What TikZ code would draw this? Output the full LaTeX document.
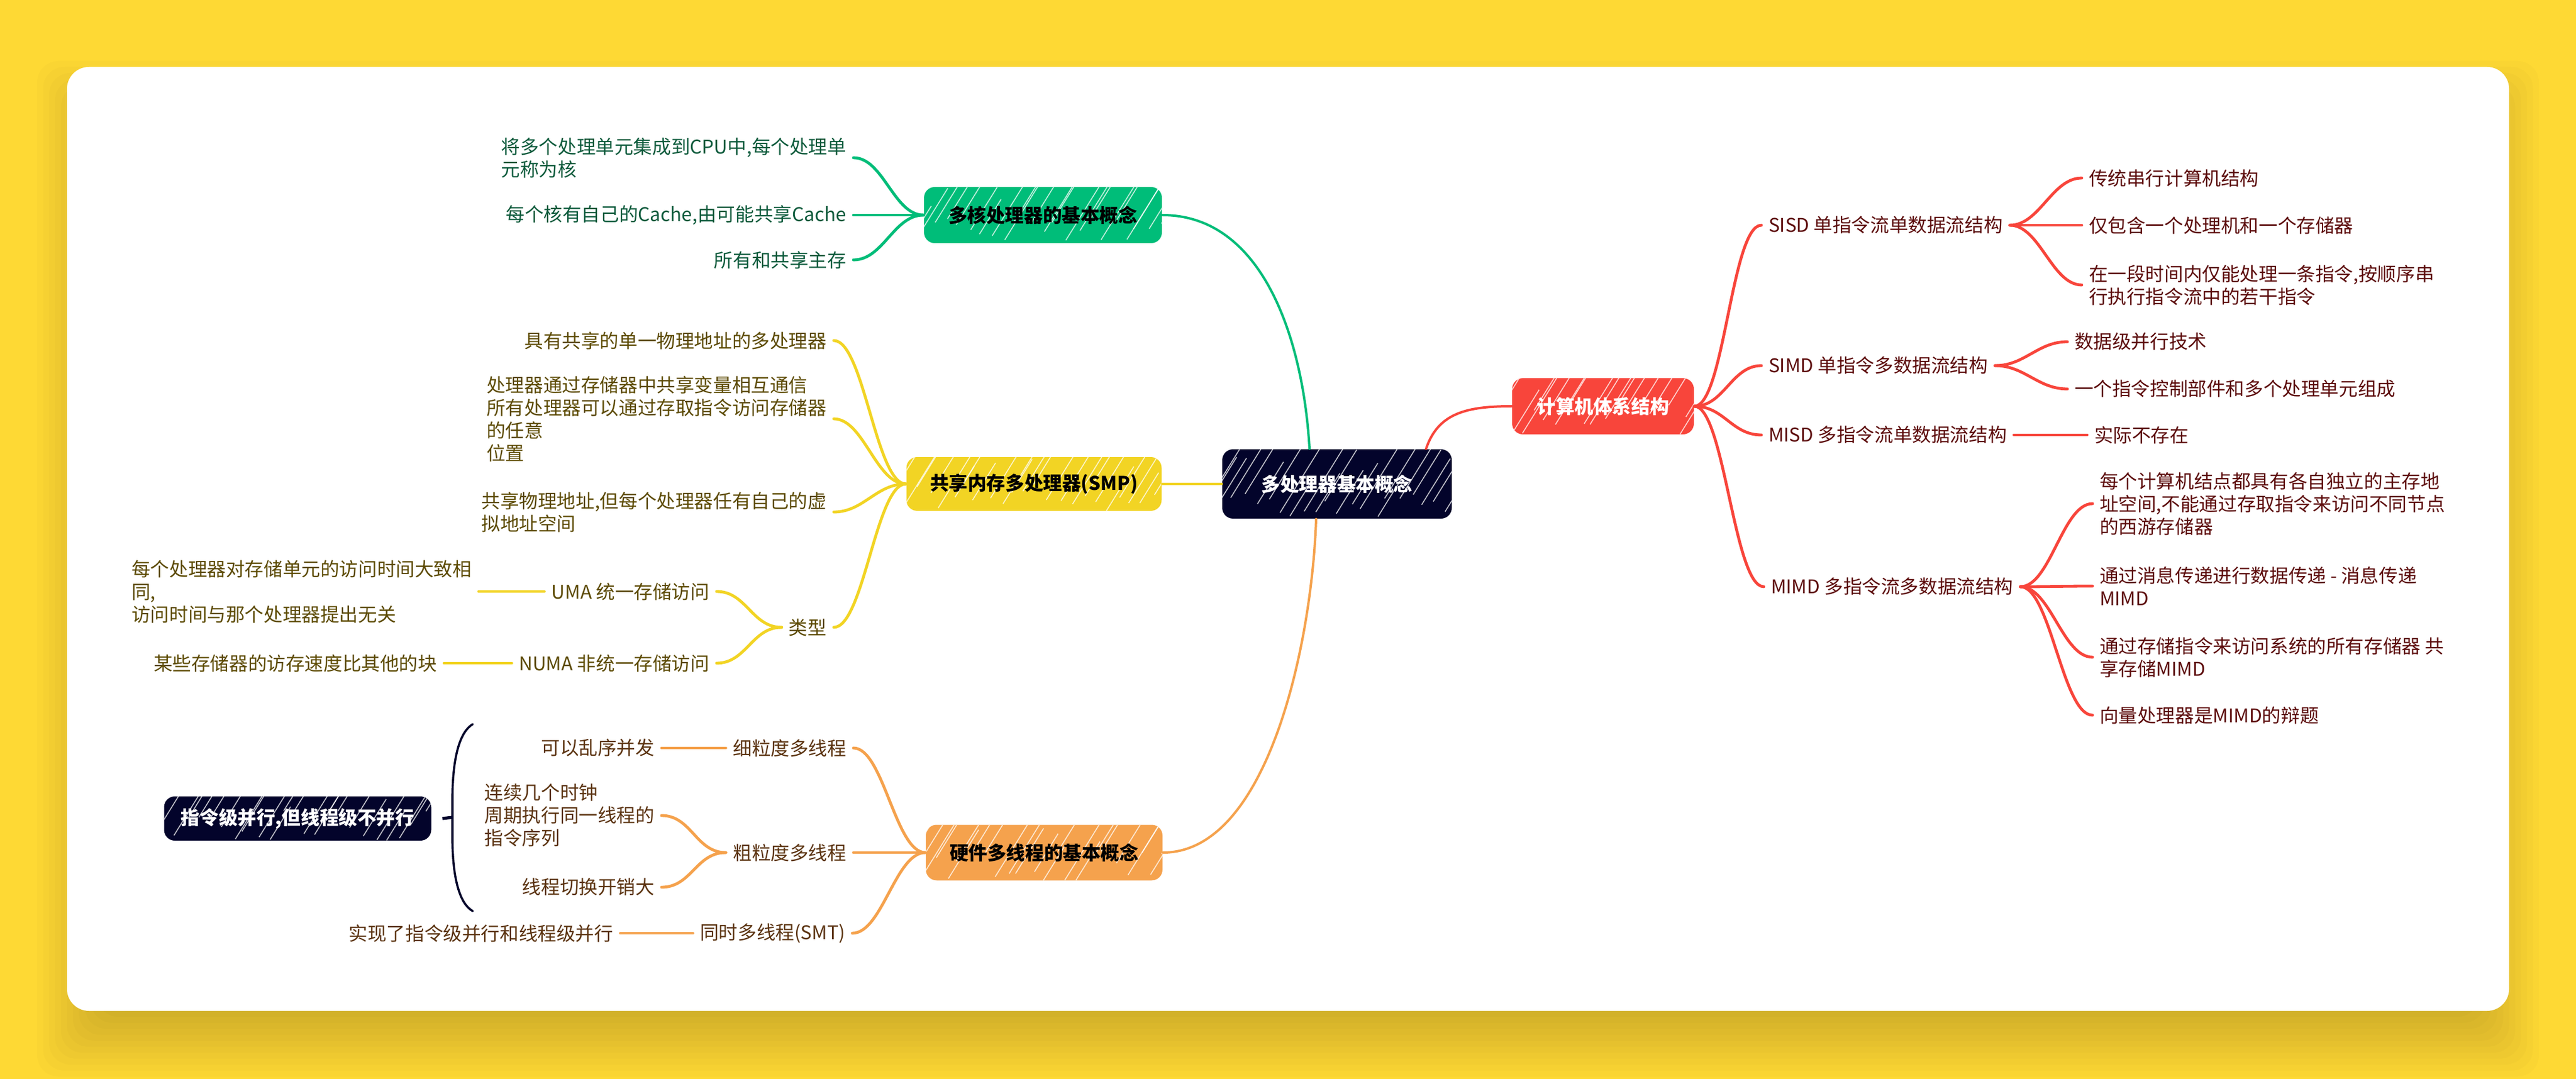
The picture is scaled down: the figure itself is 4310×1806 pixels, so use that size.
\documentclass[tikz,border=0pt]{standalone}
\usepackage{fontspec}
\setmainfont{Noto Sans CJK SC}
\usetikzlibrary{calc}
\definecolor{bg}{HTML}{FED934}
\definecolor{navy}{HTML}{03042B}
\definecolor{redc}{HTML}{F8453B}
\definecolor{greenc}{HTML}{00BD79}
\definecolor{yellowc}{HTML}{F2D424}
\definecolor{orangec}{HTML}{F5A24D}
\definecolor{gtext}{HTML}{0C5A3B}
\definecolor{ytext}{HTML}{5C4A02}
\definecolor{otext}{HTML}{5B3310}
\definecolor{rtext}{HTML}{5C0B0B}
\newcommand\fsz{\fontsize{7.9pt}{9.5pt}\selectfont}
\tikzset{
  box/.style={rounded corners=4.5pt, inner sep=0pt, align=center, font=\fsz\bfseries},
  hatched/.style={path picture={%
    \foreach \k in {0,...,26}{%
      \pgfmathsetmacro\hx{-70+\k*20+rnd*12}%
      \pgfmathsetmacro\hs{rnd*50}%
      \pgfmathsetmacro\hl{50+rnd*110}%
      \draw[white, line width=0.4pt, opacity=0.75] ($(path picture bounding box.south west)+(\hx,-\hs)$) -- ++({0.62*\hl},{-\hl});
    }}},
  lt/.style={inner sep=0pt, outer xsep=3pt, outer ysep=0pt, anchor=east, align=left, font=\fsz},
  rt/.style={inner sep=0pt, outer xsep=3pt, outer ysep=0pt, anchor=west, align=left, font=\fsz},
  conn/.style={line width=1.2pt, line cap=round},
  mainconn/.style={line width=1pt, line cap=round},
}
\newcommand\lconn[3]{\draw[conn,#1] (#2) .. controls +(-50,0) and +(50,0) .. (#3);}
\newcommand\rconn[3]{\draw[conn,#1] (#2) .. controls +(50,0) and +(-50,0) .. (#3);}
\begin{document}
\begin{tikzpicture}[x=0.25pt,y=-0.25pt]
\pgfmathsetseed{11}
\useasboundingbox (0,0) rectangle (4310,1806);
\fill[bg] (0,0) rectangle (4310,1806);
% card shadow
\foreach \s in {-60,-50,...,60}{
  \fill[black, fill opacity=0.016, rounded corners=9pt] ({122-\s},{162-\s}) rectangle ({4188+\s},{1742+\s});
}
\fill[white, rounded corners=9.25pt] (112,112) rectangle (4198,1692);

% ---------- connectors from the centre ----------
\node[box, hatched, fill=navy, text=white, minimum width=96pt, minimum height=29pt] (c) at (2237,810) {多处理器基本概念};
\node[box, hatched, fill=redc, text=white, minimum width=76pt, minimum height=23.5pt] (r) at (2682,680) {计算机体系结构};
\node[box, hatched, fill=greenc, text=black, minimum width=99.5pt, minimum height=23.5pt] (g) at (1745,360) {多核处理器的基本概念};
\node[box, hatched, fill=yellowc, text=black, minimum width=106.75pt, minimum height=22.5pt] (y) at (1730,810) {共享内存多处理器(SMP)};
\node[box, hatched, fill=orangec, text=black, minimum width=99pt, minimum height=23.25pt] (o) at (1747,1427) {硬件多线程的基本概念};
\node[box, hatched, fill=navy, text=white, minimum width=111.75pt, minimum height=18.5pt] (sum) at (498,1370) {指令级并行,但线程级不并行};

\begin{scope}[on background layer/.style={}]
\end{scope}

\draw[mainconn, greenc] (g.east) .. controls +(165,0) and +(-11,-190) .. ($(c.north)+(-46,0)$);
\draw[mainconn, orangec] (o.east) .. controls +(175,0) and +(-7,210) .. ($(c.south)+(-35,0)$);
\draw[mainconn, yellowc] (y.east) -- (c.west);
\draw[mainconn, redc] ($(c.north)+(149,0)$) .. controls +(20,-60) and +(-75,0) .. (r.west);

% ---------- green branch ----------
\node[lt, text=gtext] (g1) at (1428,264) {将多个处理单元集成到CPU中,每个处理单\\元称为核};
\node[lt, text=gtext] (g2) at (1428,360) {每个核有自己的Cache,由可能共享Cache};
\node[lt, text=gtext] (g3) at (1428,435) {所有和共享主存};
\lconn{greenc}{g.west}{g1.east}
\lconn{greenc}{g.west}{g2.east}
\lconn{greenc}{g.west}{g3.east}

% ---------- yellow branch ----------
\node[lt, text=ytext] (y1) at (1395,570) {具有共享的单一物理地址的多处理器};
\node[lt, text=ytext] (y2) at (1395,701) {处理器通过存储器中共享变量相互通信\\所有处理器可以通过存取指令访问存储器\\的任意\\位置};
\node[lt, text=ytext] (y3) at (1395,857) {共享物理地址,但每个处理器任有自己的虚\\拟地址空间};
\node[lt, text=ytext] (y4) at (1395,1050) {类型};
\node[lt, text=ytext] (y41) at (1199,990) {UMA 统一存储访问};
\node[lt, text=ytext] (y42) at (1199,1110) {NUMA 非统一存储访问};
\node[lt, text=ytext] (y411) at (801,990) {每个处理器对存储单元的访问时间大致相\\同,\\访问时间与那个处理器提出无关};
\node[lt, text=ytext] (y421) at (743,1110) {某些存储器的访存速度比其他的块};
\lconn{yellowc}{y.west}{y1.east}
\lconn{yellowc}{y.west}{y2.east}
\lconn{yellowc}{y.west}{y3.east}
\lconn{yellowc}{y.west}{y4.east}
\lconn{yellowc}{y4.west}{y41.east}
\lconn{yellowc}{y4.west}{y42.east}
\lconn{yellowc}{y41.west}{y411.east}
\lconn{yellowc}{y42.west}{y421.east}

% ---------- orange branch ----------
\node[lt, text=otext] (o1) at (1428,1252) {细粒度多线程};
\node[lt, text=otext] (o2) at (1428,1427) {粗粒度多线程};
\node[lt, text=otext] (o3) at (1426,1562) {同时多线程(SMT)};
\node[lt, text=otext] (o11) at (1107,1252) {可以乱序并发};
\node[lt, text=otext] (o21) at (1107,1365) {连续几个时钟\\周期执行同一线程的\\指令序列};
\node[lt, text=otext] (o22) at (1107,1485) {线程切换开销大};
\node[lt, text=otext] (o31) at (1038,1562) {实现了指令级并行和线程级并行};
\lconn{orangec}{o.west}{o1.east}
\lconn{orangec}{o.west}{o2.east}
\lconn{orangec}{o.west}{o3.east}
\lconn{orangec}{o1.west}{o11.east}
\lconn{orangec}{o2.west}{o21.east}
\lconn{orangec}{o2.west}{o22.east}
\lconn{orangec}{o3.west}{o31.east}

% summary brace
\coordinate (bt) at (791,1212);
\coordinate (bb) at (791,1525);
\coordinate (bm) at (757,1368);
\draw[navy, line width=0.9pt, line cap=round] (bt) .. controls (768,1226) and (758,1270) .. (757,1330) -- (bm) -- (757,1410) .. controls (758,1468) and (768,1512) .. (bb);
\draw[navy, line width=1.3pt] (bm) -- ($(sum.east)+(18,0)$);

% ---------- red branch ----------
\node[rt, text=rtext] (r1) at (2947,377) {SISD 单指令流单数据流结构};
\node[rt, text=rtext] (r2) at (2947,612) {SIMD 单指令多数据流结构};
\node[rt, text=rtext] (r3) at (2947,728) {MISD 多指令流单数据流结构};
\node[rt, text=rtext] (r4) at (2951,982) {MIMD 多指令流多数据流结构};
\node[rt, text=rtext] (r11) at (3483,298) {传统串行计算机结构};
\node[rt, text=rtext] (r12) at (3483,377) {仅包含一个处理机和一个存储器};
\node[rt, text=rtext] (r13) at (3483,477) {在一段时间内仅能处理一条指令,按顺序串\\行执行指令流中的若干指令};
\node[rt, text=rtext] (r21) at (3459,572) {数据级并行技术};
\node[rt, text=rtext] (r22) at (3459,651) {一个指令控制部件和多个处理单元组成};
\node[rt, text=rtext] (r31) at (3492,728) {实际不存在};
\node[rt, text=rtext] (r41) at (3501,843) {每个计算机结点都具有各自独立的主存地\\址空间,不能通过存取指令来访问不同节点\\的西游存储器};
\node[rt, text=rtext] (r42) at (3501,981) {通过消息传递进行数据传递 - 消息传递\\MIMD};
\node[rt, text=rtext] (r43) at (3501,1100) {通过存储指令来访问系统的所有存储器 共\\享存储MIMD};
\node[rt, text=rtext] (r44) at (3501,1197) {向量处理器是MIMD的辩题};
\rconn{redc}{r.east}{r1.west}
\rconn{redc}{r.east}{r2.west}
\rconn{redc}{r.east}{r3.west}
\rconn{redc}{r.east}{r4.west}
\rconn{redc}{r1.east}{r11.west}
\rconn{redc}{r1.east}{r12.west}
\rconn{redc}{r1.east}{r13.west}
\rconn{redc}{r2.east}{r21.west}
\rconn{redc}{r2.east}{r22.west}
\rconn{redc}{r3.east}{r31.west}
\rconn{redc}{r4.east}{r41.west}
\rconn{redc}{r4.east}{r42.west}
\rconn{redc}{r4.east}{r43.west}
\rconn{redc}{r4.east}{r44.west}
\end{tikzpicture}
\end{document}
